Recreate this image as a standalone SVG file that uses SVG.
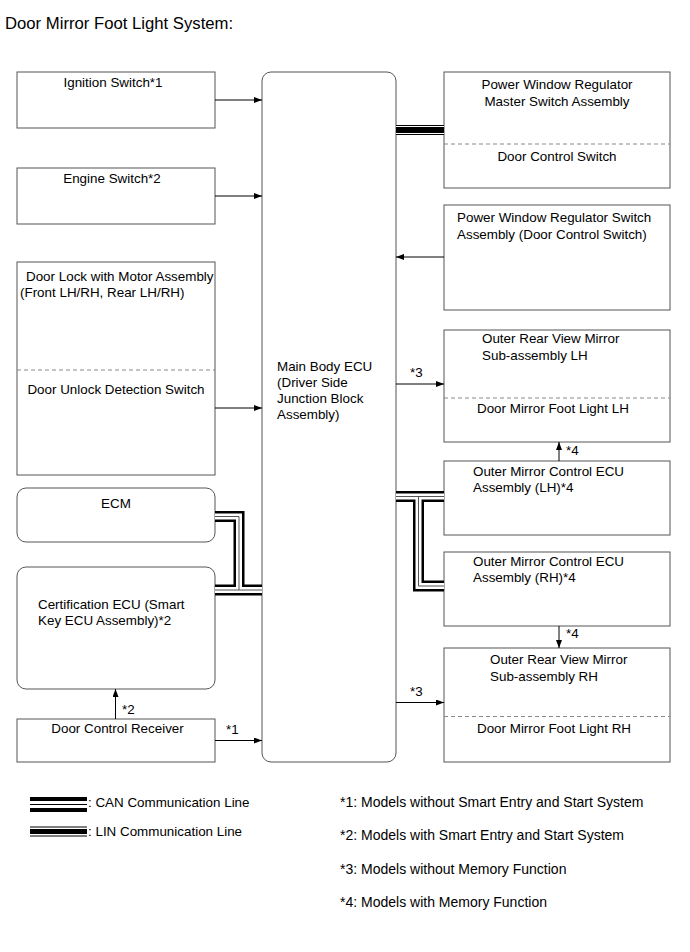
<svg xmlns="http://www.w3.org/2000/svg" width="690" height="952" viewBox="0 0 690 952">
<style>
text{font-family:"Liberation Sans",Arial,sans-serif;font-size:13.4px;fill:#000}
.title{font-size:16.7px}
.fn{font-size:14px}
.box{fill:#fff;stroke:#555;stroke-width:1}
.dash{stroke:#888;stroke-width:1;stroke-dasharray:4,3;fill:none}
.arr{stroke:#000;stroke-width:1;fill:none;marker-end:url(#ah)}
.cb{stroke:#000;stroke-width:11;fill:none}
.cw{stroke:#fff;stroke-width:6;fill:none}
.ct{stroke:#555;stroke-width:1;fill:none}
.lb{stroke:#000;stroke-width:10;fill:none}
.lw{stroke:#fff;stroke-width:8;fill:none}
.lt{stroke:#000;stroke-width:6;fill:none}
</style>
<defs>
<marker id="ah" markerUnits="userSpaceOnUse" markerWidth="9" markerHeight="7" refX="8" refY="3" orient="auto">
<path d="M0,0 L8,3 L0,6 z" fill="#000"/>
</marker>
</defs>
<rect width="690" height="952" fill="#fff"/>
<text class="title" x="5" y="29">Door Mirror Foot Light System:</text>

<g id="ignition">
<rect class="box" x="17" y="72" width="198" height="56"/>
<text x="113" y="87" text-anchor="middle">Ignition Switch*1</text>
</g>
<g id="engine">
<rect class="box" x="17" y="168" width="198" height="56"/>
<text x="112" y="183" text-anchor="middle">Engine Switch*2</text>
</g>
<g id="doorlock">
<rect class="box" x="17" y="262" width="198" height="213"/>
<text x="26" y="281">Door Lock with Motor Assembly</text>
<text x="20" y="297">(Front LH/RH, Rear LH/RH)</text>
<line class="dash" x1="17" y1="370" x2="215" y2="370"/>
<text x="116" y="394" text-anchor="middle">Door Unlock Detection Switch</text>
</g>
<g id="ecm">
<rect class="box" x="17" y="488" width="198" height="54" rx="9"/>
<text x="116" y="508" text-anchor="middle">ECM</text>
</g>
<g id="cert">
<rect class="box" x="17" y="567" width="198" height="122" rx="9"/>
<text x="38" y="609">Certification ECU (Smart</text>
<text x="38" y="625">Key ECU Assembly)*2</text>
</g>
<g id="receiver">
<rect class="box" x="17" y="719" width="198" height="43"/>
<text x="117.5" y="733" text-anchor="middle">Door Control Receiver</text>
</g>
<g id="mainecu">
<rect class="box" x="262" y="72" width="134" height="690" rx="9"/>
<text x="277" y="371">Main Body ECU</text>
<text x="277" y="387">(Driver Side</text>
<text x="277" y="403">Junction Block</text>
<text x="277" y="419">Assembly)</text>
</g>
<g id="master">
<rect class="box" x="444" y="72" width="226" height="116"/>
<text x="557" y="89" text-anchor="middle">Power Window Regulator</text>
<text x="557" y="106" text-anchor="middle">Master Switch Assembly</text>
<line class="dash" x1="444" y1="144" x2="670" y2="144"/>
<text x="557" y="161" text-anchor="middle">Door Control Switch</text>
</g>
<g id="pwswitch">
<rect class="box" x="444" y="205" width="226" height="105"/>
<text x="457" y="222">Power Window Regulator Switch</text>
<text x="457" y="239">Assembly (Door Control Switch)</text>
</g>
<g id="mirrorlh">
<rect class="box" x="444" y="330" width="226" height="112"/>
<text x="482" y="343">Outer Rear View Mirror</text>
<text x="482" y="360">Sub-assembly LH</text>
<line class="dash" x1="444" y1="398" x2="670" y2="398"/>
<text x="477" y="413">Door Mirror Foot Light LH</text>
</g>
<g id="omclh">
<rect class="box" x="444" y="461" width="226" height="74"/>
<text x="473" y="476">Outer Mirror Control ECU</text>
<text x="473" y="492">Assembly (LH)*4</text>
</g>
<g id="omcrh">
<rect class="box" x="444" y="552" width="226" height="74"/>
<text x="473" y="566">Outer Mirror Control ECU</text>
<text x="473" y="582">Assembly (RH)*4</text>
</g>
<g id="mirrorrh">
<rect class="box" x="444" y="648" width="226" height="114"/>
<text x="490" y="664">Outer Rear View Mirror</text>
<text x="490" y="681">Sub-assembly RH</text>
<line class="dash" x1="444" y1="716.5" x2="670" y2="716.5"/>
<text x="477" y="733">Door Mirror Foot Light RH</text>
</g>

<g id="connectors">
<line class="arr" x1="215" y1="100" x2="262" y2="100"/>
<line class="arr" x1="215" y1="196" x2="262" y2="196"/>
<line class="arr" x1="215" y1="408" x2="262" y2="408"/>
<line class="arr" x1="215" y1="740.5" x2="262" y2="740.5"/>
<text x="226" y="734">*1</text>
<line class="arr" x1="115.5" y1="719" x2="115.5" y2="689"/>
<text x="122" y="714">*2</text>
<line class="arr" x1="444" y1="257" x2="396" y2="257"/>
<line class="arr" x1="396" y1="384" x2="444" y2="384"/>
<text x="410" y="377">*3</text>
<line class="arr" x1="396" y1="702.5" x2="444" y2="702.5"/>
<text x="410" y="696">*3</text>
<line class="arr" x1="559" y1="461" x2="559" y2="442"/>
<text x="566" y="455">*4</text>
<line class="arr" x1="559" y1="626" x2="559" y2="648"/>
<text x="566" y="638">*4</text>
<g>
<line class="lb" x1="396" y1="130" x2="444" y2="130"/>
<line class="lw" x1="396" y1="130" x2="444" y2="130"/>
<line class="lt" x1="396" y1="130" x2="444" y2="130"/>
</g>
<g>
<path class="cb" d="M215,516.5 H239 V590 M215,590 H262"/>
<path class="cw" d="M215,516.5 H239 V590 M215,590 H262"/>
<path class="ct" d="M215,516.5 H239 V590 M215,590 H262"/>
</g>
<g>
<path class="cb" d="M396,496.5 H444 M418.5,496.5 V586 H444"/>
<path class="cw" d="M396,496.5 H444 M418.5,496.5 V586 H444"/>
<path class="ct" d="M396,496.5 H444 M418.5,496.5 V586 H444"/>
</g>
</g>

<g id="legend">
<line x1="30" y1="804.5" x2="87" y2="804.5" stroke="#000" stroke-width="15"/>
<line x1="30" y1="804.5" x2="87" y2="804.5" stroke="#fff" stroke-width="7"/>
<line x1="30" y1="804.5" x2="87" y2="804.5" stroke="#000" stroke-width="1"/>
<text x="88" y="807">: CAN Communication Line</text>
<line x1="30" y1="831.5" x2="87" y2="831.5" stroke="#000" stroke-width="10"/>
<line x1="30" y1="831.5" x2="87" y2="831.5" stroke="#fff" stroke-width="8"/>
<line x1="30" y1="831.5" x2="87" y2="831.5" stroke="#000" stroke-width="5"/>
<text x="88" y="836">: LIN Communication Line</text>
<text class="fn" x="340" y="807">*1: Models without Smart Entry and Start System</text>
<text class="fn" x="340" y="840">*2: Models with Smart Entry and Start System</text>
<text class="fn" x="340" y="874">*3: Models without Memory Function</text>
<text class="fn" x="340" y="907">*4: Models with Memory Function</text>
</g>
</svg>
